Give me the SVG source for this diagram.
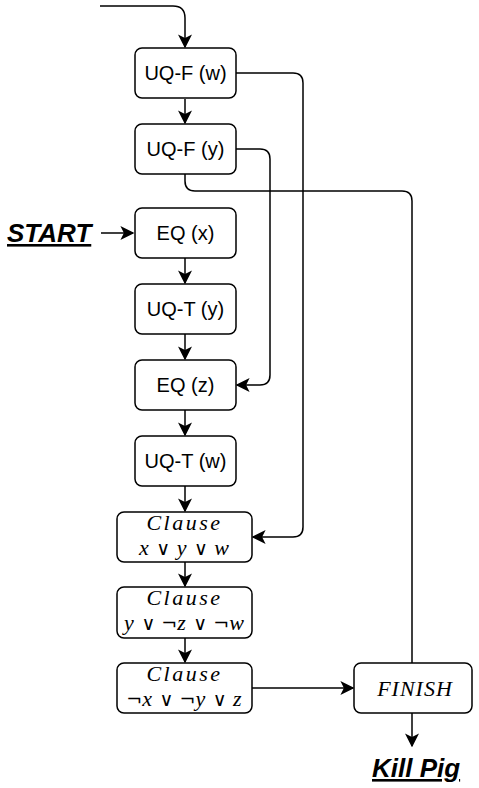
<svg xmlns="http://www.w3.org/2000/svg" width="479" height="788" viewBox="0 0 479 788">
<style>
.n{fill:#fff;stroke:#000;stroke-width:1.5}
.t{font-family:"Liberation Sans",Arial,sans-serif;font-size:20px;text-anchor:middle}
.m{font-family:"Liberation Serif","Times New Roman",serif;font-size:22px;text-anchor:middle;font-style:italic;letter-spacing:1px}
.c{letter-spacing:2.5px}
.u{font-style:normal;font-family:"DejaVu Serif",serif;font-size:19px;letter-spacing:0}
.e{fill:none;stroke:#000;stroke-width:1.5}
.lbl{font-family:"Liberation Sans",Arial,sans-serif;font-size:26px;font-weight:bold;font-style:italic;text-decoration:underline}
</style>
<defs>
<marker id="a" viewBox="0 0 10 10" refX="9" refY="5" markerWidth="14" markerHeight="14" orient="auto" markerUnits="userSpaceOnUse">
<path d="M0,0 L10,5 L0,10 L2.5,5 Z" fill="#000"/>
</marker>
</defs>
<g id="connectors">
<path class="e" d="M100,6 H173 Q185,6 185,18 V47" marker-end="url(#a)"/>
<path class="e" d="M185,99 V123" marker-end="url(#a)"/>
<path class="e" d="M101,233 H133" marker-end="url(#a)"/>
<path class="e" d="M185,258 V283" marker-end="url(#a)"/>
<path class="e" d="M185,334 V359" marker-end="url(#a)"/>
<path class="e" d="M185,410 V435" marker-end="url(#a)"/>
<path class="e" d="M185,486 V511" marker-end="url(#a)"/>
<path class="e" d="M185,562 V586" marker-end="url(#a)"/>
<path class="e" d="M185,638 V662" marker-end="url(#a)"/>
<path class="e" d="M236,73 H293 Q303,73 303,83 V527 Q303,537 293,537 H253" marker-end="url(#a)"/>
<path class="e" d="M236,149 H260 Q270,149 270,159 V375 Q270,385 260,385 H237" marker-end="url(#a)"/>
<path class="e" d="M185,174 V181 Q185,191 195,191 H402 Q412,191 412,201 V663"/>
<path class="e" d="M252,688 H353" marker-end="url(#a)"/>
<path class="e" d="M412,713 V746" marker-end="url(#a)"/>
</g>
<g id="uqfw"><rect class="n" x="135" y="48" width="101" height="50" rx="7"/><text class="t" x="185.5" y="80">UQ-F (w)</text></g>
<g id="uqfy"><rect class="n" x="135" y="124" width="101" height="50" rx="7"/><text class="t" x="185.5" y="156">UQ-F (y)</text></g>
<g id="eqx"><rect class="n" x="135" y="208" width="101" height="50" rx="7"/><text class="t" x="185.5" y="240">EQ (x)</text></g>
<g id="uqty"><rect class="n" x="135" y="284" width="101" height="50" rx="7"/><text class="t" x="185.5" y="316">UQ-T (y)</text></g>
<g id="eqz"><rect class="n" x="135" y="360" width="101" height="50" rx="7"/><text class="t" x="185.5" y="392">EQ (z)</text></g>
<g id="uqtw"><rect class="n" x="135" y="436" width="101" height="50" rx="7"/><text class="t" x="185.5" y="468">UQ-T (w)</text></g>
<g id="clause1"><rect class="n" x="117" y="512" width="135" height="50" rx="7"/>
<text class="m c" x="184.5" y="530">Clause</text>
<text class="m" x="184.5" y="555">x <tspan class="u">∨</tspan> y <tspan class="u">∨</tspan> w</text></g>
<g id="clause2"><rect class="n" x="117" y="587" width="135" height="51" rx="7"/>
<text class="m c" x="184.5" y="605">Clause</text>
<text class="m" x="184.5" y="630">y <tspan class="u">∨ ¬</tspan>z <tspan class="u">∨ ¬</tspan>w</text></g>
<g id="clause3"><rect class="n" x="117" y="663" width="135" height="50" rx="7"/>
<text class="m c" x="184.5" y="681">Clause</text>
<text class="m" x="184.5" y="706"><tspan class="u">¬</tspan>x <tspan class="u">∨ ¬</tspan>y <tspan class="u">∨</tspan> z</text></g>
<g id="finish"><rect class="n" x="354" y="663" width="118" height="50" rx="7"/>
<text class="m" x="415" y="696" font-size="23" letter-spacing="5">FINISH</text></g>
<g id="start"><text class="lbl" x="7" y="242">START</text></g>
<g id="killpig"><text class="lbl" x="372" y="777">Kill Pig</text></g>
</svg>
